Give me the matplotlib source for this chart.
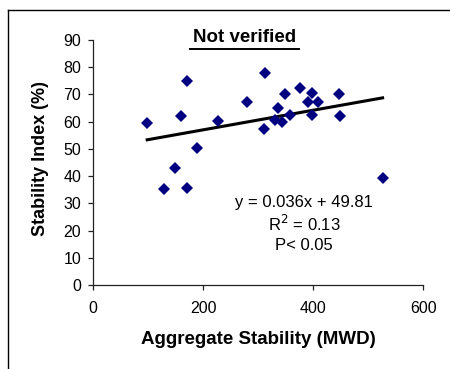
import matplotlib
matplotlib.use("Agg")
import matplotlib.pyplot as plt
from matplotlib.lines import Line2D
import numpy as np

# Data
mwd = [98, 128, 148, 159, 170, 170, 188, 227, 279, 313, 311, 330, 336, 343,
       348, 358, 376, 391, 397, 397, 409, 447, 448, 526]
stability = [59.6, 35.3, 43.0, 62.2, 75.1, 35.7, 50.2, 60.2, 67.3, 78.0, 57.4, 60.6,
             65.1, 60.0, 70.2, 62.3, 72.3, 67.3, 70.4, 62.3, 67.3, 70.2, 62.2, 39.2]
slope = 0.036
intercept = 49.81
x_ticks = [0, 200, 400, 600]
y_ticks = [0, 10, 20, 30, 40, 50, 60, 70, 80, 90]

plt.rcParams['font.family'] = ['Liberation Sans', 'DejaVu Sans']

W, H = 450, 369
fig = plt.figure(figsize=(W / 100, H / 100), dpi=100)
ax_l, ax_b, ax_w, ax_h = 93.3, 285, 330, 245
ax = fig.add_axes([ax_l / W, 1 - ax_b / H, ax_w / W, ax_h / H])

ax.plot(mwd, stability, linestyle='none', marker='D', markersize=6.3,
        color='#000080', markeredgewidth=0, zorder=3)
xl = np.array([min(mwd), max(mwd)])
ax.plot(xl, slope * xl + intercept, color='black', linewidth=2.2, zorder=2)

ax.set_xlim(0, 600)
ax.set_ylim(0, 90)
ax.set_xticks(x_ticks)
ax.set_yticks(y_ticks)
for s in ['top', 'right']:
    ax.spines[s].set_visible(False)
for s in ['left', 'bottom']:
    ax.spines[s].set_linewidth(0.9)
    ax.spines[s].set_color('#222222')
ax.tick_params(direction='out', length=3.6, width=0.9, labelsize=11.5,
               color='#222222')
ax.tick_params(axis='x', pad=8)
ax.tick_params(axis='y', pad=5)

ax.set_xlabel('Aggregate Stability (MWD)', fontsize=13.5, fontweight='bold', va='center')
ax.xaxis.set_label_coords(0.5, (ax_b - 340) / ax_h)
ax.set_ylabel('Stability Index (%)', fontsize=13, fontweight='bold', va='center')
ax.yaxis.set_label_coords((40 - ax_l) / ax_w, (ax_b - 158) / ax_h)

fig.text(245 / W, 1 - 38 / H, 'Not verified', ha='center', va='center',
         fontsize=13.5, fontweight='bold')
fig.add_artist(Line2D([190 / W, 299 / W], [1 - 49 / H, 1 - 49 / H], color='black',
                      linewidth=1.4))

fig.text(304 / W, 1 - 202 / H, 'y = 0.036x + 49.81', ha='center', va='center', fontsize=12)
fig.text(304 / W, 1 - 224 / H, r'R$^2$ = 0.13', ha='center', va='center', fontsize=12)
fig.text(304 / W, 1 - 245 / H, 'P< 0.05', ha='center', va='center', fontsize=12)

# figure frame (left and top edges visible)
fig.add_artist(Line2D([8 / W, 8 / W], [0, 1 - 10 / H], color='black', linewidth=1.0))
fig.add_artist(Line2D([8 / W, 1], [1 - 10 / H, 1 - 10 / H], color='black', linewidth=1.0))

fig.savefig('out.png', dpi=100)
